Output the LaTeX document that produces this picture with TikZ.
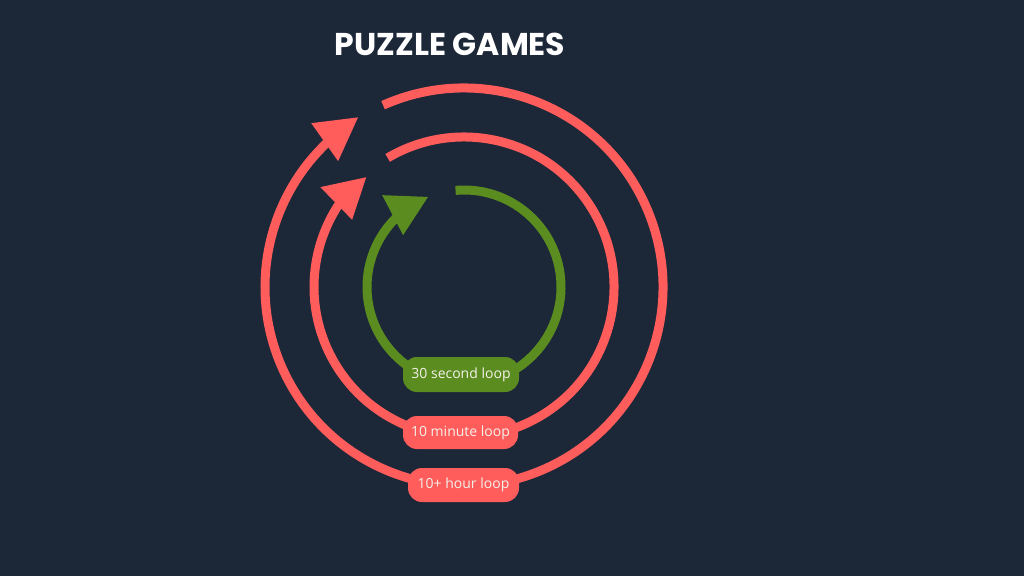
\documentclass[tikz,border=0pt]{standalone}
\usepackage{fontspec}
\setmainfont{Open Sans}
\newfontfamily\titlefont{Poppins}
\usetikzlibrary{calc}
\definecolor{bg}{HTML}{1C2738}
\definecolor{ringred}{HTML}{FF5C5C}
\definecolor{ringgreen}{HTML}{5B8C20}
\definecolor{labeltext}{HTML}{F4F1EA}
\begin{document}
\begin{tikzpicture}[x=1pt,y=1pt,
  ring/.style={line width=9pt},
  loopbox/.style={rounded corners=14pt, minimum height=34pt, inner sep=0pt,
    text=labeltext, font=\fontsize{14}{16}\selectfont}]
\fill[bg] (0,0) rectangle (1024,576);
\useasboundingbox (0,0) rectangle (1024,576);
\coordinate (C) at (464,289);
% outer ring
\draw[ring, ringred] ($(C)+(114:199)$) arc[start angle=114, end angle=-229, radius=199];
\fill[ringred] ($(C)+(122:200)$) -- ($(C)+(133:224)$) -- ($(C)+(135:178)$) -- cycle;
% middle ring
\draw[ring, ringred] ($(C)+(120.6:150)$) arc[start angle=120.6, end angle=-216, radius=150];
\fill[ringred] ($(C)+(131.7:147)$) -- ($(C)+(145.2:175)$) -- ($(C)+(149:130.5)$) -- cycle;
% green ring
\draw[ring, ringgreen] ($(C)+(95:97)$) arc[start angle=95, end angle=-228, radius=97];
\fill[ringgreen] ($(C)+(111.8:97)$) -- ($(C)+(131.7:123)$) -- ($(C)+(139.6:80)$) -- cycle;
% labels
\node[loopbox, fill=ringgreen, minimum width=116pt, minimum height=35pt] (l30) at (461,201.5) {30 second loop};
\node[loopbox, fill=ringred, minimum width=115pt, minimum height=33pt] (l10m) at (460.5,143.5) {10 minute loop};
\node[loopbox, fill=ringred, minimum width=111pt, minimum height=34pt] (l10h) at (463.5,91) {10+ hour loop};
% title
\node[text=white, font=\titlefont\bfseries\fontsize{31.5}{34}\selectfont] (title) at (450,532) {PUZZLE GAMES};
\end{tikzpicture}
\end{document}
